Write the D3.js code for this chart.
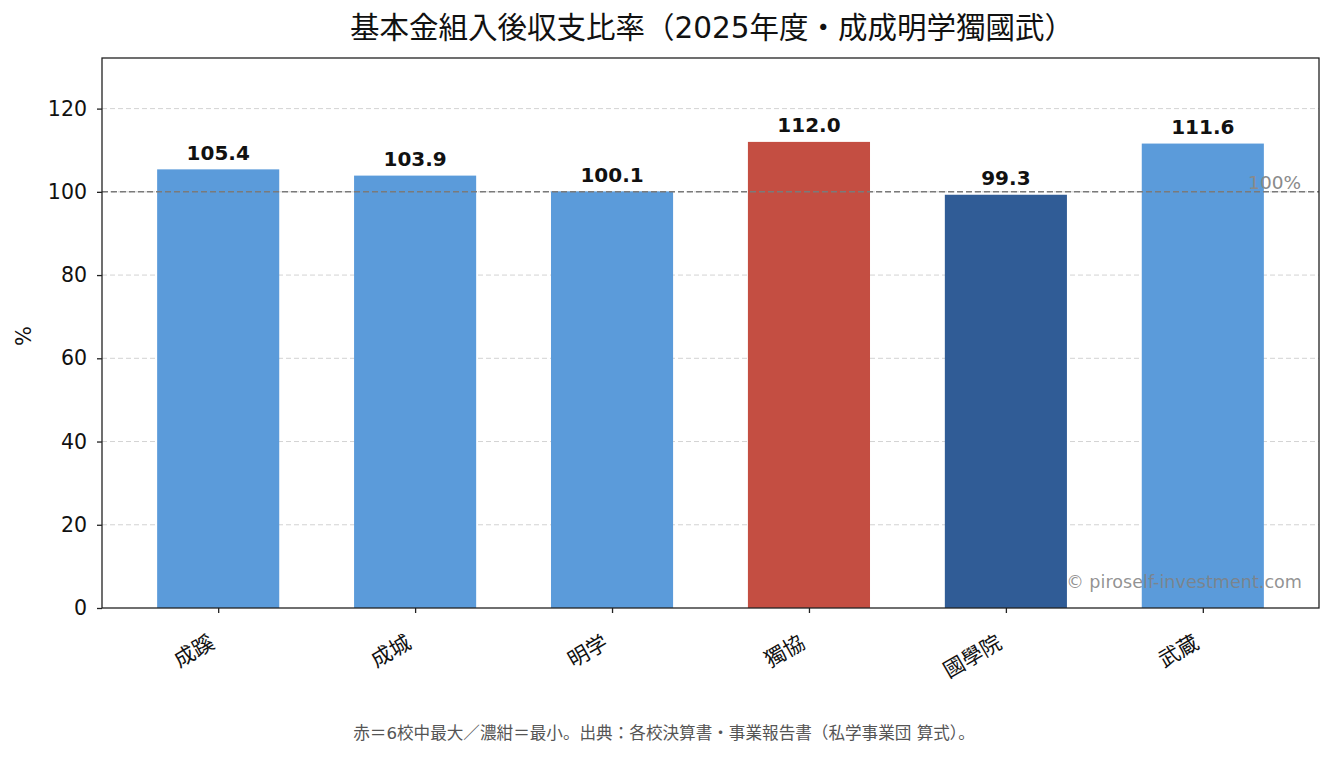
<!DOCTYPE html>
<html><head><meta charset="utf-8">
<script src="https://cdn.jsdelivr.net/npm/d3@7"></script>
<style>
html,body{margin:0;padding:0;background:#fff;}
svg{display:block;font-family:"DejaVu Sans","Noto Sans CJK JP",sans-serif;}
</style></head>
<body><svg id="c" width="1335" height="757"></svg>
<script>
const categories = ["成蹊","成城","明学","獨協","國學院","武蔵"];
const values = [105.4, 103.9, 100.1, 112.0, 99.3, 111.6];
const colorKeys = ["normal","normal","normal","max","min","normal"];
const yTicks = [0,20,40,60,80,100,120];
const titleText = "基本金組入後収支比率（2025年度・成成明学獨國武）";
const noteText = "赤＝6校中最大／濃紺＝最小。出典：各校決算書・事業報告書（私学事業団 算式）。";
const refValue = 100;

const palette = {normal:"#5B9BDA", max:"#C44E42", min:"#305C96"};
const CJK = "'Noto Sans CJK JP',sans-serif";
const LAT = "'DejaVu Sans','Noto Sans CJK JP',sans-serif";
const svg = d3.select("#c");
const L=102, R=1319, T=58, B=608;

const x = d3.scaleLinear().domain([-0.59, categories.length-1+0.59]).range([L,R]);
const y = d3.scaleLinear().domain([0, d3.max(values)*1.18]).range([B,T]);
const bw = x(0.62)-x(0);

// grid
svg.append("g").selectAll("line").data(yTicks.filter(d=>d>0)).join("line")
  .attr("x1",L).attr("x2",R).attr("y1",d=>y(d)).attr("y2",d=>y(d))
  .attr("stroke","#d3d3d3").attr("stroke-width",1).attr("stroke-dasharray","5,3");

// bars
svg.append("g").selectAll("rect").data(values).join("rect")
  .attr("x",(d,i)=>x(i)-bw/2).attr("width",bw)
  .attr("y",d=>y(d)).attr("height",d=>y(0)-y(d))
  .attr("fill",(d,i)=>palette[colorKeys[i]]);

// reference line
svg.append("line").attr("x1",L).attr("x2",R).attr("y1",y(refValue)).attr("y2",y(refValue))
  .attr("stroke","#7a7a7a").attr("stroke-width",1.5).attr("stroke-dasharray","6,3");
svg.append("text").attr("x",R-18).attr("y",y(refValue)-3).attr("text-anchor","end")
  .attr("font-family",LAT).attr("font-size",18.5).attr("fill","#8a8a8a").text(refValue+"%");

// value labels
svg.append("g").selectAll("text").data(values).join("text")
  .attr("x",(d,i)=>x(i)).attr("y",d=>y(d)-9.5).attr("text-anchor","middle")
  .attr("font-family",LAT).attr("font-size",20).attr("font-weight","bold").attr("fill","#111")
  .text(d=>d.toFixed(1));

// axes
const yAxis = d3.axisLeft(y).tickValues(yTicks).tickSize(5).tickPadding(10);
const gy = svg.append("g").attr("transform",`translate(${L},0)`).call(yAxis);
gy.select(".domain").remove();
gy.selectAll("text").attr("font-size",20.5).attr("fill","#111").attr("font-family",LAT);
gy.selectAll("line").attr("stroke","#222").attr("stroke-width",1.3);

const xAxis = d3.axisBottom(x).tickValues(d3.range(categories.length)).tickFormat(i=>categories[i]).tickSize(5);
const gx = svg.append("g").attr("transform",`translate(0,${B})`).call(xAxis);
gx.select(".domain").remove();
gx.selectAll("line").attr("stroke","#222").attr("stroke-width",1.3);
gx.selectAll("text").attr("font-size",21).attr("fill","#111").attr("font-family",CJK)
  .attr("text-anchor","end").attr("dy",0).attr("y",0)
  .attr("transform","translate(-3,39) rotate(-30)");

// frame
svg.append("rect").attr("x",L).attr("y",T).attr("width",R-L).attr("height",B-T)
  .attr("fill","none").attr("stroke","#222").attr("stroke-width",1.3);

// watermark
svg.append("text").attr("x",R-17).attr("y",B-20).attr("text-anchor","end")
  .attr("font-family",LAT).attr("font-size",17.6).attr("fill","#808080").attr("fill-opacity",0.85)
  .text("© piroself-investment.com");

// y label
svg.append("text").attr("transform",`translate(31,336) rotate(-90)`)
  .attr("text-anchor","middle").attr("font-family",LAT).attr("font-size",21).attr("fill","#111").text("%");

// title
svg.append("text").attr("x",712).attr("y",38).attr("text-anchor","middle")
  .attr("font-family",LAT).attr("font-size",29.5).attr("fill","#111").text(titleText);

// note
svg.append("text").attr("x",664).attr("y",739).attr("text-anchor","middle")
  .attr("font-family",LAT).attr("font-size",16.6).attr("fill","#555").text(noteText);
</script></body></html>
